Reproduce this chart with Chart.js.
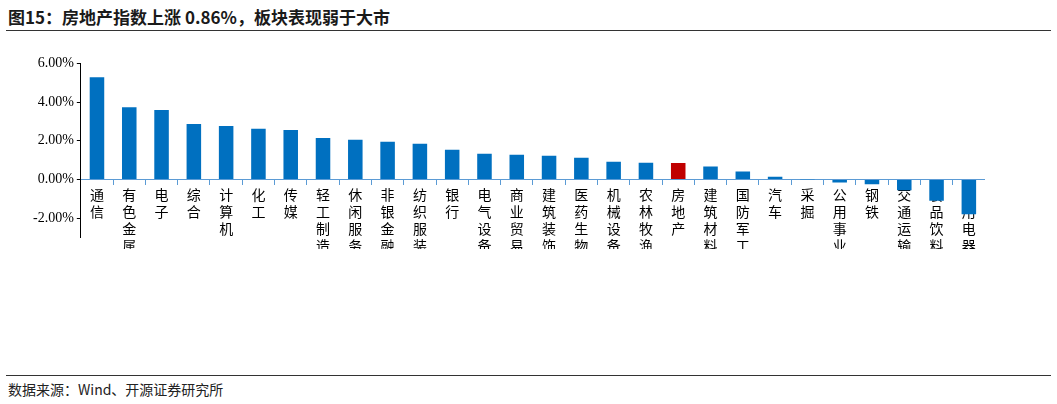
<!DOCTYPE html>
<html><head><meta charset="utf-8">
<script src="https://cdn.jsdelivr.net/npm/chart.js"></script>
<style>
body{margin:0;background:#fff;font-family:"Noto Sans CJK SC",sans-serif;}
#title{position:absolute;left:8px;top:4px;font-size:17px;font-weight:bold;color:#1a1a1a;}
#l1{position:absolute;left:6px;right:6px;top:30px;border-top:1px solid #333;}
#l2{position:absolute;left:6px;right:6px;top:375px;border-top:1px solid #333;}
#src{position:absolute;left:8px;top:379px;font-size:14px;color:#222;}
#wrap{position:absolute;left:0;top:52px;width:985px;height:197px;}
</style></head><body>
<div id="title">图15：房地产指数上涨 0.86%，板块表现弱于大市</div>
<div id="l1"></div>
<div id="wrap"><canvas id="c"></canvas></div>
<div id="l2"></div>
<div id="src">数据来源：Wind、开源证券研究所</div>
<script>
// categories and values
var categories = ['通信','有色金属','电子','综合','计算机','化工','传媒','轻工制造','休闲服务','非银金融','纺织服装','银行','电气设备','商业贸易','建筑装饰','医药生物','机械设备','农林牧渔','房地产','建筑材料','国防军工','汽车','采掘','公用事业','钢铁','交通运输','食品饮料','家用电器'];
var changes = [5.28,3.74,3.59,2.87,2.77,2.62,2.56,2.15,2.05,1.95,1.85,1.54,1.33,1.28,1.23,1.13,0.92,0.87,0.86,0.67,0.41,0.15,0.01,-0.15,-0.25,-0.55,-1.1,-1.8];
var yTicks = [6,5,4,3,2,1,0,-1,-2,-3];

var colors = categories.map(function(c){ return c == '房地产' ? '#c00000' : '#0070c0'; });

new Chart(document.getElementById('c'), {
	type: 'bar',
	data: {
		labels: categories.map(function(c){ return c.split(''); }),
		datasets: [{ data: changes, backgroundColor: colors, barPercentage: 0.45, categoryPercentage: 1 }]
	},
	options: {
		responsive: true, maintainAspectRatio: false, animation: false,
		layout: { padding: { left: 30, right: 0, top: 5, bottom: 0 } },
		plugins: { legend: { display: false }, tooltip: { enabled: false } },
		scales: {
			x: {
				position: { y: 0 },
				z: 1,
				grid: { display: true, drawOnChartArea: false, tickLength: 5, offset: true, color: '#5b9bd5' },
				border: { color: '#5b9bd5' },
				ticks: { color: '#000', font: { size: 14, family: '"Noto Sans CJK SC"' }, maxRotation: 0, autoSkip: false, padding: 2 }
			},
			y: {
				min: -3, max: 6,
				afterBuildTicks: function(s){ s.ticks = yTicks.map(function(v){ return { value: v }; }); },
				grid: { drawOnChartArea: false, tickLength: 4, color: '#000' },
				border: { color: '#000' },
				ticks: { color: '#000', font: { size: 14, family: '"Times New Roman","Liberation Serif",serif' },
					callback: function(v){ return v.toFixed(2) + '%'; } }
			}
		}
	}
});
</script>
</body></html>
